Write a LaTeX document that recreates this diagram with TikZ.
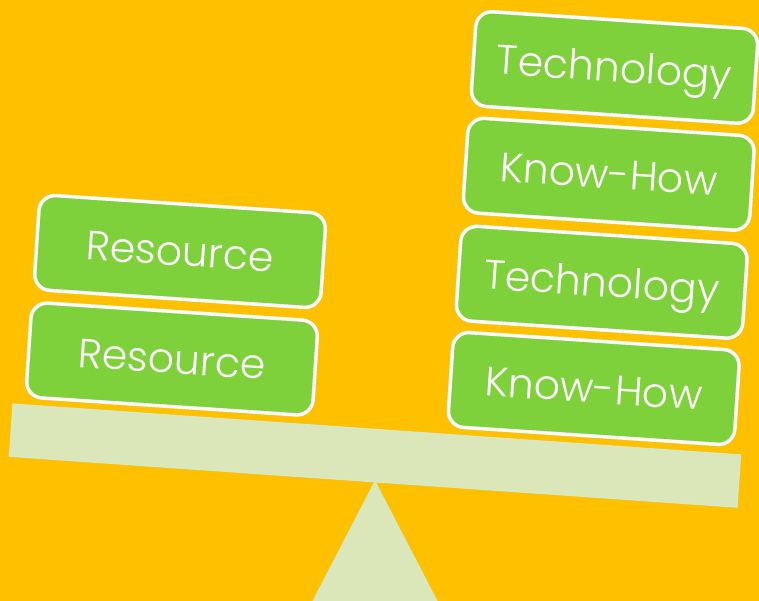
\documentclass[tikz,border=0pt]{standalone}
\usepackage{fontspec}
\setmainfont{Poppins}[UprightFont=* Light]
\definecolor{bgorange}{HTML}{FFC000}
\definecolor{boxgreen}{HTML}{7FD13B}
\definecolor{beamfill}{HTML}{DBE7B9}
\definecolor{beamedge}{HTML}{D4E9C8}
\begin{document}
\begin{tikzpicture}[x=1pt,y=-1pt,
  weight/.style={draw=white, line width=3.5pt, fill=boxgreen, rounded corners=16pt,
    minimum width=287pt, minimum height=95pt, rotate=-3.8, text=white,
    font=\fontsize{41}{41}\selectfont, text height=28.7pt, text depth=0pt, inner sep=0pt},
  plank/.style={draw=beamedge, line width=1.5pt, fill=beamfill, minimum width=729pt,
    minimum height=52pt, rotate=-4, inner sep=0pt},
  pivot/.style={draw=beamedge, line width=1.5pt, fill=beamfill}]
\useasboundingbox (0,0) rectangle (759,601);
\clip (0,0) rectangle (759,601);
\fill[bgorange] (0,0) rectangle (759,601);
% fulcrum
\coordinate (apex) at (375,482);
\coordinate (fl) at (262,700);
\coordinate (fr) at (488,700);
\path[pivot] (apex) -- (fr) -- (fl) -- cycle;
% beam
\node[plank] (beam) at (375,455.6) {};
% left stack
\node[weight] (l2) at (172,359) {Resource};
\node[weight] (l1) at (180,251.5) {Resource};
% right stack
\node[weight] (r4) at (593.75,388.5) {Know-How};
\node[weight] (r3) at (601.75,282.25) {Technology};
\node[weight] (r2) at (608.75,174.25) {Know-How};
\node[weight, minimum width=282.5pt] (r1) at (614.5,67.5) {Technology};
\end{tikzpicture}
\end{document}
